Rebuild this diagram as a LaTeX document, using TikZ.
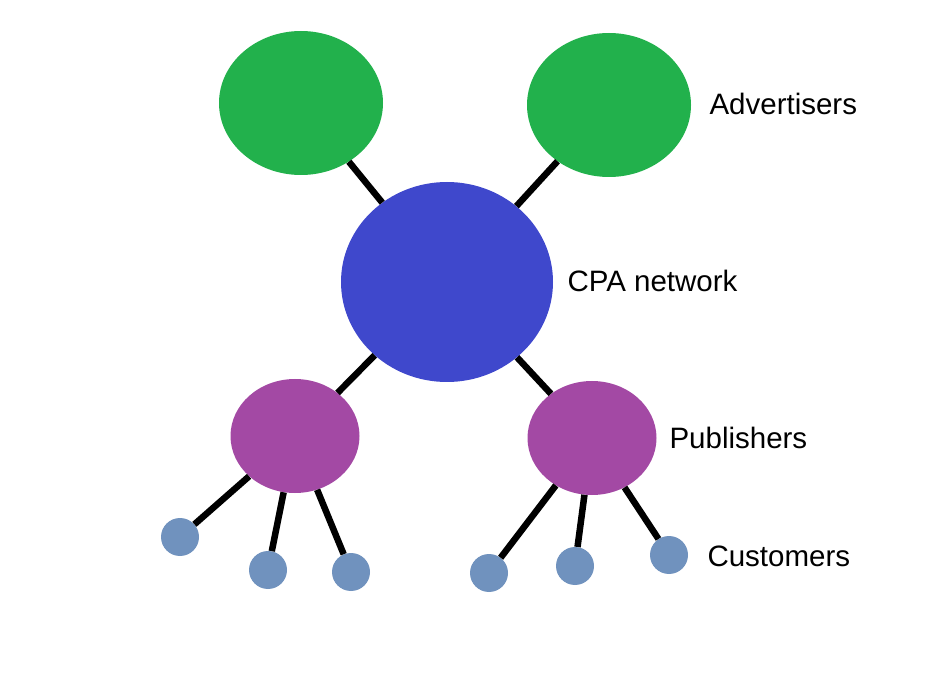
\documentclass[tikz,border=0pt]{standalone}
\usepackage{fontspec}
\setmainfont{Liberation Sans}
\definecolor{advgreen}{HTML}{22B14C}
\definecolor{cpablue}{HTML}{3F48CC}
\definecolor{pubpurple}{HTML}{A349A4}
\definecolor{custblue}{HTML}{7092BE}
\tikzset{
  blob/.style={ellipse, inner sep=0pt},
  advert/.style={blob, fill=advgreen, minimum width=164pt, minimum height=144pt},
  network/.style={blob, fill=cpablue, minimum width=212pt, minimum height=200pt},
  publisher/.style={blob, fill=pubpurple, minimum width=129pt, minimum height=114pt},
  customer/.style={circle, fill=custblue, minimum size=38pt, inner sep=0pt},
  link/.style={line width=6.5pt, black},
  lbl/.style={anchor=west, font=\fontsize{29.5}{34}\selectfont}
}
\usetikzlibrary{shapes.geometric}
\begin{document}
\begin{tikzpicture}[x=1pt, y=-1pt]
        \useasboundingbox (0,0) rectangle (940,692);
        \node[advert] (adv1) at (301, 103) {};
        \node[advert] (adv2) at (609, 105) {};
        \node[network] (cpa) at (447, 282) {};
        \node[publisher] (pub1) at (295, 436) {};
        \node[publisher] (pub2) at (592, 438) {};
        \node[customer] (cust1) at (180, 537) {};
        \node[customer] (cust2) at (268, 570) {};
        \node[customer] (cust3) at (351, 572) {};
        \node[customer] (cust4) at (489, 573) {};
        \node[customer] (cust5) at (575, 566) {};
        \node[customer] (cust6) at (669, 555) {};
        \draw[link] (adv1) -- (cpa);
        \draw[link] (adv2) -- (cpa);
        \draw[link] (cpa) -- (pub1);
        \draw[link] (cpa) -- (pub2);
        \draw[link] (pub1) -- (cust1);
        \draw[link] (pub1) -- (cust2);
        \draw[link] (pub1) -- (cust3);
        \draw[link] (pub2) -- (cust4);
        \draw[link] (pub2) -- (cust5);
        \draw[link] (pub2) -- (cust6);
        \node[lbl] (advlbl) at (706, 104) {Advertisers};
        \node[lbl] (cpalbl) at (564, 281) {CPA network};
        \node[lbl] (publbl) at (666, 438) {Publishers};
        \node[lbl] (custlbl) at (704, 556) {Customers};
\end{tikzpicture}
\end{document}
